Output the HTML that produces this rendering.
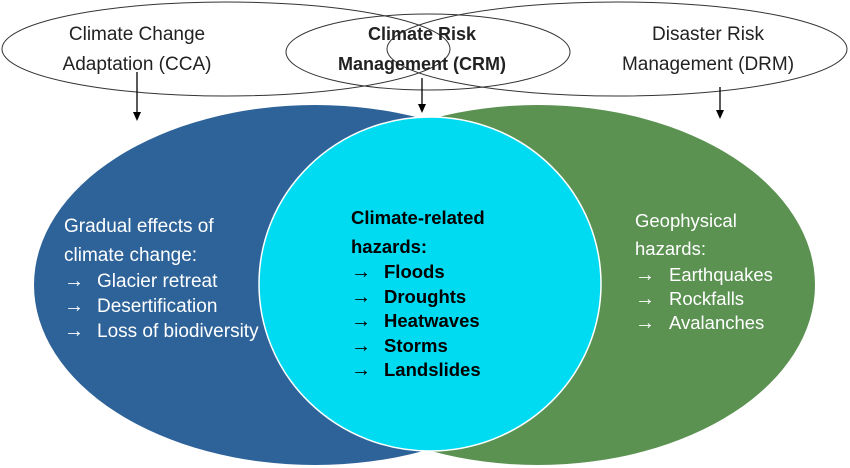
<!DOCTYPE html>
<html><head><meta charset="utf-8"><style>
html,body{margin:0;padding:0;background:#fff;}
svg{display:block;font-family:"Liberation Sans",sans-serif;}
</style></head><body>
<svg width="850" height="468" viewBox="0 0 850 468" xmlns="http://www.w3.org/2000/svg">
<ellipse cx="226" cy="49" rx="224" ry="47" fill="none" stroke="#333" stroke-width="1"/>
<ellipse cx="617" cy="49" rx="230" ry="47" fill="none" stroke="#333" stroke-width="1"/>
<ellipse cx="428" cy="52" rx="142" ry="38" fill="none" stroke="#333" stroke-width="1"/>
<line x1="137" y1="72" x2="137" y2="113" stroke="#000" stroke-width="1.3"/>
<polygon points="133,112 141,112 137,121" fill="#000"/>
<line x1="422" y1="78" x2="422" y2="105" stroke="#000" stroke-width="1.3"/>
<polygon points="418,104 426,104 422,113" fill="#000"/>
<line x1="720" y1="87" x2="720" y2="111" stroke="#000" stroke-width="1.3"/>
<polygon points="716,110 724,110 720,119" fill="#000"/>
<ellipse cx="538" cy="285" rx="277" ry="180" fill="#5b9252"/>
<ellipse cx="315" cy="285" rx="281" ry="180" fill="#2e6399"/>
<ellipse cx="430" cy="284" rx="171" ry="167" fill="#00dbf2" stroke="#fff" stroke-width="1.5"/>
<g font-size="19" fill="#222" text-anchor="middle">
<text x="137" y="40">Climate Change</text>
<text x="137" y="70">Adaptation (CCA)</text>
<text x="422" y="40" font-weight="bold" font-size="18">Climate Risk</text>
<text x="422" y="70" font-weight="bold" font-size="18">Management (CRM)</text>
<text x="708" y="40">Disaster Risk</text>
<text x="708" y="70">Management (DRM)</text>
</g>
<g font-size="19" fill="#fff">
<text x="64" y="232">Gradual effects of</text>
<text x="64" y="261">climate change:</text>
<text x="64" y="287" font-size="20">→</text><text x="97" y="287">Glacier retreat</text>
<text x="64" y="312" font-size="20">→</text><text x="97" y="312">Desertification</text>
<text x="64" y="337" font-size="20">→</text><text x="97" y="337">Loss of biodiversity</text>
</g>
<g font-size="18.5" fill="#000" font-weight="bold">
<text x="351" y="224">Climate-related</text>
<text x="351" y="253">hazards:</text>
<text x="351" y="278" font-weight="normal" font-size="20">→</text><text x="384" y="278">Floods</text>
<text x="351" y="303" font-weight="normal" font-size="20">→</text><text x="384" y="303">Droughts</text>
<text x="351" y="327" font-weight="normal" font-size="20">→</text><text x="384" y="327">Heatwaves</text>
<text x="351" y="352" font-weight="normal" font-size="20">→</text><text x="384" y="352">Storms</text>
<text x="351" y="376" font-weight="normal" font-size="20">→</text><text x="384" y="376">Landslides</text>
</g>
<g font-size="18.5" fill="#fff">
<text x="635" y="227">Geophysical</text>
<text x="635" y="255">hazards:</text>
<text x="635" y="281" font-size="20">→</text><text x="669" y="281">Earthquakes</text>
<text x="635" y="305" font-size="20">→</text><text x="669" y="305">Rockfalls</text>
<text x="635" y="329" font-size="20">→</text><text x="669" y="329">Avalanches</text>
</g>
</svg>
</body></html>
